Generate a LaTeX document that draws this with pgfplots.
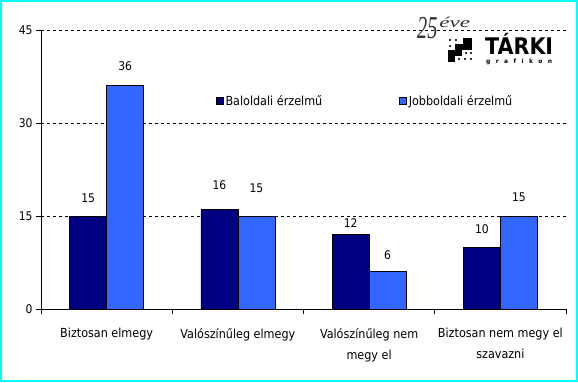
\documentclass[border=0pt]{standalone}
\usepackage{pgfplots}
\usepackage{pgfplotstable}
\pgfplotsset{compat=1.18}
\usepackage{fontspec}
\setmainfont{DejaVu Sans Condensed}
\newfontfamily\serifit{Liberation Serif}
\newfontfamily\heavy{DejaVu Sans}
\definecolor{darkbar}{HTML}{000080}
\definecolor{lightbar}{HTML}{3366FF}
\definecolor{frame}{HTML}{00FFFF}
\pgfplotstableread{
x y off
0.5 15 17.7
1.5 16 25
2.5 12 11.7
3.5 10 17.6
}\baltable
\pgfplotstableread{
x y off
0.5 36 20
1.5 15 28
2.5 6 17
3.5 15 19.2
}\jobbtable
\begin{document}
\begin{tikzpicture}[x=1bp,y=1bp]
\fill[white] (0,0) rectangle (578,382);
\draw[frame,line width=2bp] (1,1) rectangle (577,381);
\begin{axis}[
  at={(41bp,73bp)}, anchor=south west,
  scale only axis, width=525bp, height=279bp,
  xmin=0, xmax=4, ymin=0, ymax=45,
  axis lines=left, axis line style={-, line width=0.8pt},
  ybar=0pt, bar width=37bp,
  ytick={0,15,30,45},
  ymajorgrids, grid style={dashed, black, line width=0.6pt, dash pattern=on 3bp off 3bp},
  tick align=outside, major tick length=5bp, minor tick length=5bp,
  tick style={black, line width=0.6pt},
  xtick={0.5,1.5,2.5,3.5},
  xticklabels={Biztosan elmegy, Valószínűleg elmegy, Valószínűleg nem\\megy el, Biztosan nem megy el\\szavazni},
  xticklabel style={align=center, font=\fontsize{12.5}{21}\selectfont, anchor=north, yshift=-11bp},
  major x tick style={draw=none},
  minor xtick={0,1,2,3,4},
  yticklabel style={font=\fontsize{12}{12}\selectfont},
  /pgf/number format/assume math mode=true,
  nodes near coords,
  visualization depends on={\thisrow{off} \as \off},
  every node near coord/.append style={font=\fontsize{12}{12}\selectfont, black, anchor=center, yshift=\off},
  legend columns=2,
  legend style={draw=none, fill=none, inner sep=0pt, at={(0.333,0.7455)}, anchor=west, font=\fontsize{12.5}{12}\selectfont,
    /tikz/every even column/.append style={column sep=75bp}},
  legend image code/.code={\draw[#1, line width=0.5pt] (0bp,-3.5bp) rectangle (7bp,3.5bp);},
]
\addplot[fill=darkbar, draw=black, line width=0.7pt] table[x=x,y=y] {\baltable};
\addplot[fill=lightbar, draw=black, line width=0.7pt] table[x=x,y=y] {\jobbtable};
\legend{Baloldali érzelmű, Jobboldali érzelmű}
\end{axis}
% logo
\node[anchor=base west, inner sep=0, text=gray!40!black, font=\serifit\itshape\fontsize{32}{32}\selectfont, xscale=0.64] at (417,344) {25};
\node[anchor=base west, inner sep=0, text=gray!40!black, font=\serifit\itshape\fontsize{15}{15}\selectfont, xscale=1.55] at (439,355) {éve};
\node[anchor=base west, inner sep=0, font=\heavy\bfseries\fontsize{23}{23}\selectfont, xscale=0.9] at (485,328) {TÁRKI};
\node[anchor=base west, inner sep=0, font=\heavy\bfseries\fontsize{6}{6}\selectfont] at (486,319) {\makebox[66bp][s]{g\hfill r\hfill a\hfill f\hfill i\hfill k\hfill o\hfill n}};
% staircase icon
\fill[black] (463,338) rectangle (472,344);
\fill[black] (455,332) rectangle (472,338);
\fill[black] (448,326) rectangle (462,332);
\fill[black] (448,320) rectangle (455,326);
\foreach \x/\y in {449/341,455/341,449/335,465/328,470/328,458/322,464/322,470/322}
  \fill[black!80] (\x,\y) rectangle ++(2.2,2.2);
\end{tikzpicture}
\end{document}
